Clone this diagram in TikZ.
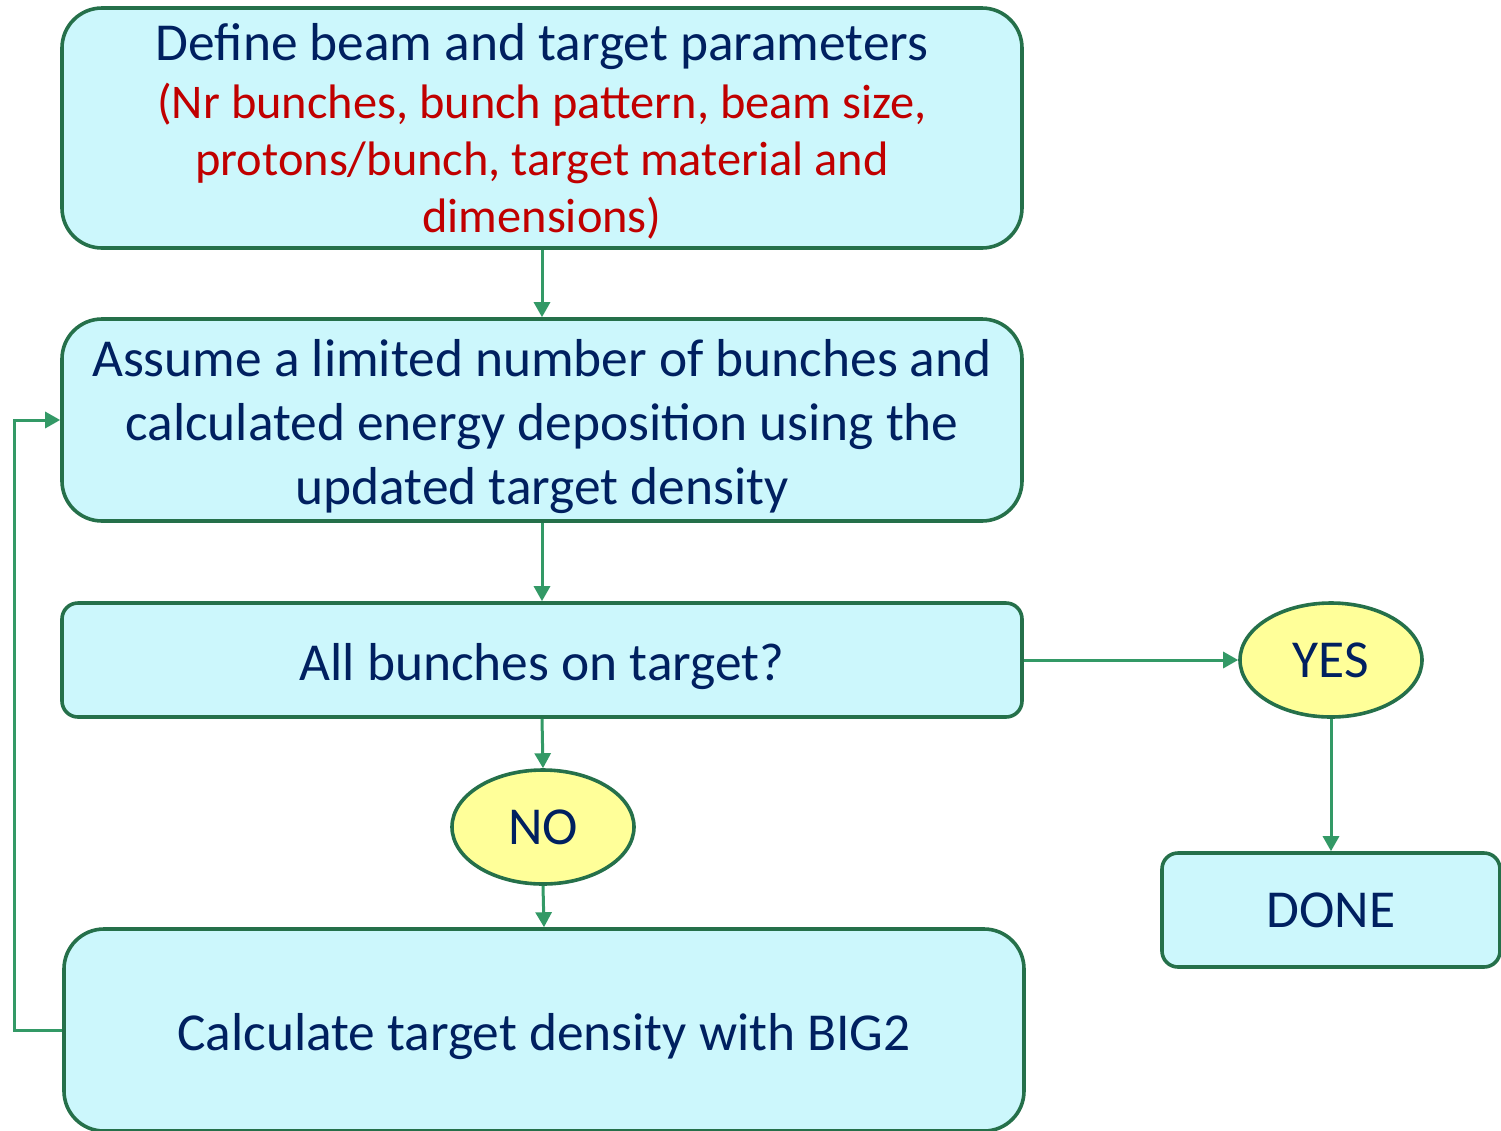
\documentclass[tikz,border=0pt]{standalone}
\usepackage{fontspec}
\setmainfont{Carlito}
\usetikzlibrary{shapes.geometric,arrows.meta}
\definecolor{boxfill}{HTML}{CCF7FC}
\definecolor{boxline}{HTML}{25704A}
\definecolor{arrowc}{HTML}{339966}
\definecolor{ellfill}{HTML}{FFFF99}
\definecolor{navy}{HTML}{002060}
\definecolor{redt}{HTML}{C00000}
\newcommand{\topstrut}[1]{\rule{0pt}{#1}}
\tikzset{
  procbox/.style={draw=boxline, fill=boxfill, line width=1.8pt, rounded corners=20pt,
    inner sep=0pt, align=center, text=navy},
  smallbox/.style={procbox, rounded corners=8pt},
  bigtext/.style={font=\fontsize{26.7}{32}\selectfont},
  answer/.style={ellipse, draw=boxline, fill=ellfill, line width=1.8pt, inner sep=0pt,
    minimum width=91pt, minimum height=57pt, text=navy, bigtext},
  flow/.style={draw=arrowc, line width=1.5pt, -{Triangle[length=7.5pt,width=8pt]}},
}
\begin{document}
\begin{tikzpicture}[x=0.5pt,y=-0.5pt]
\useasboundingbox (0,0) rectangle (1501,1131);
\node[procbox, minimum width=480pt, minimum height=120pt, font=\fontsize{24.2}{28.5}\selectfont] (define) at (542,128)
  {{\fontsize{26.7}{30}\selectfont\topstrut{22pt}Define beam and target parameters}\\[0.5pt]\textcolor{redt}{(Nr bunches, bunch pattern, beam size,}\\\textcolor{redt}{protons/bunch, target material and}\\\textcolor{redt}{dimensions)}};
\node[procbox, minimum width=480pt, minimum height=101pt, bigtext] (assume) at (542,420)
  {\topstrut{25pt}Assume a limited number of bunches and\\calculated energy deposition using the\\updated target density};
\node[smallbox, minimum width=480pt, minimum height=57pt, bigtext] (allb) at (542,660)
  {\topstrut{25pt}All bunches on target?};
\node[answer] (no) at (543,827) {NO};
\node[answer] (yes) at (1331,660) {YES};
\node[procbox, minimum width=480pt, minimum height=101pt, bigtext] (calc) at (544,1030)
  {\topstrut{25pt}Calculate target density with BIG2};
\node[procbox, rounded corners=8pt, minimum width=169pt, minimum height=57pt, bigtext] (done) at (1331,910)
  {DONE};
\coordinate (fbl) at (14,1030);
\coordinate (ful) at (14,420);
\draw[flow] (define.south) -- (assume.north);
\draw[flow] (assume.south) -- (allb.north);
\draw[flow] (allb.south) -- (no.north);
\draw[flow] (no.south) -- (calc.north);
\draw[flow] (allb.east) -- (yes.west);
\draw[flow] (yes.south) -- (done.north);
\draw[flow] (calc.west) -- (fbl) -- (ful) -- (assume.west);
\end{tikzpicture}
\end{document}
